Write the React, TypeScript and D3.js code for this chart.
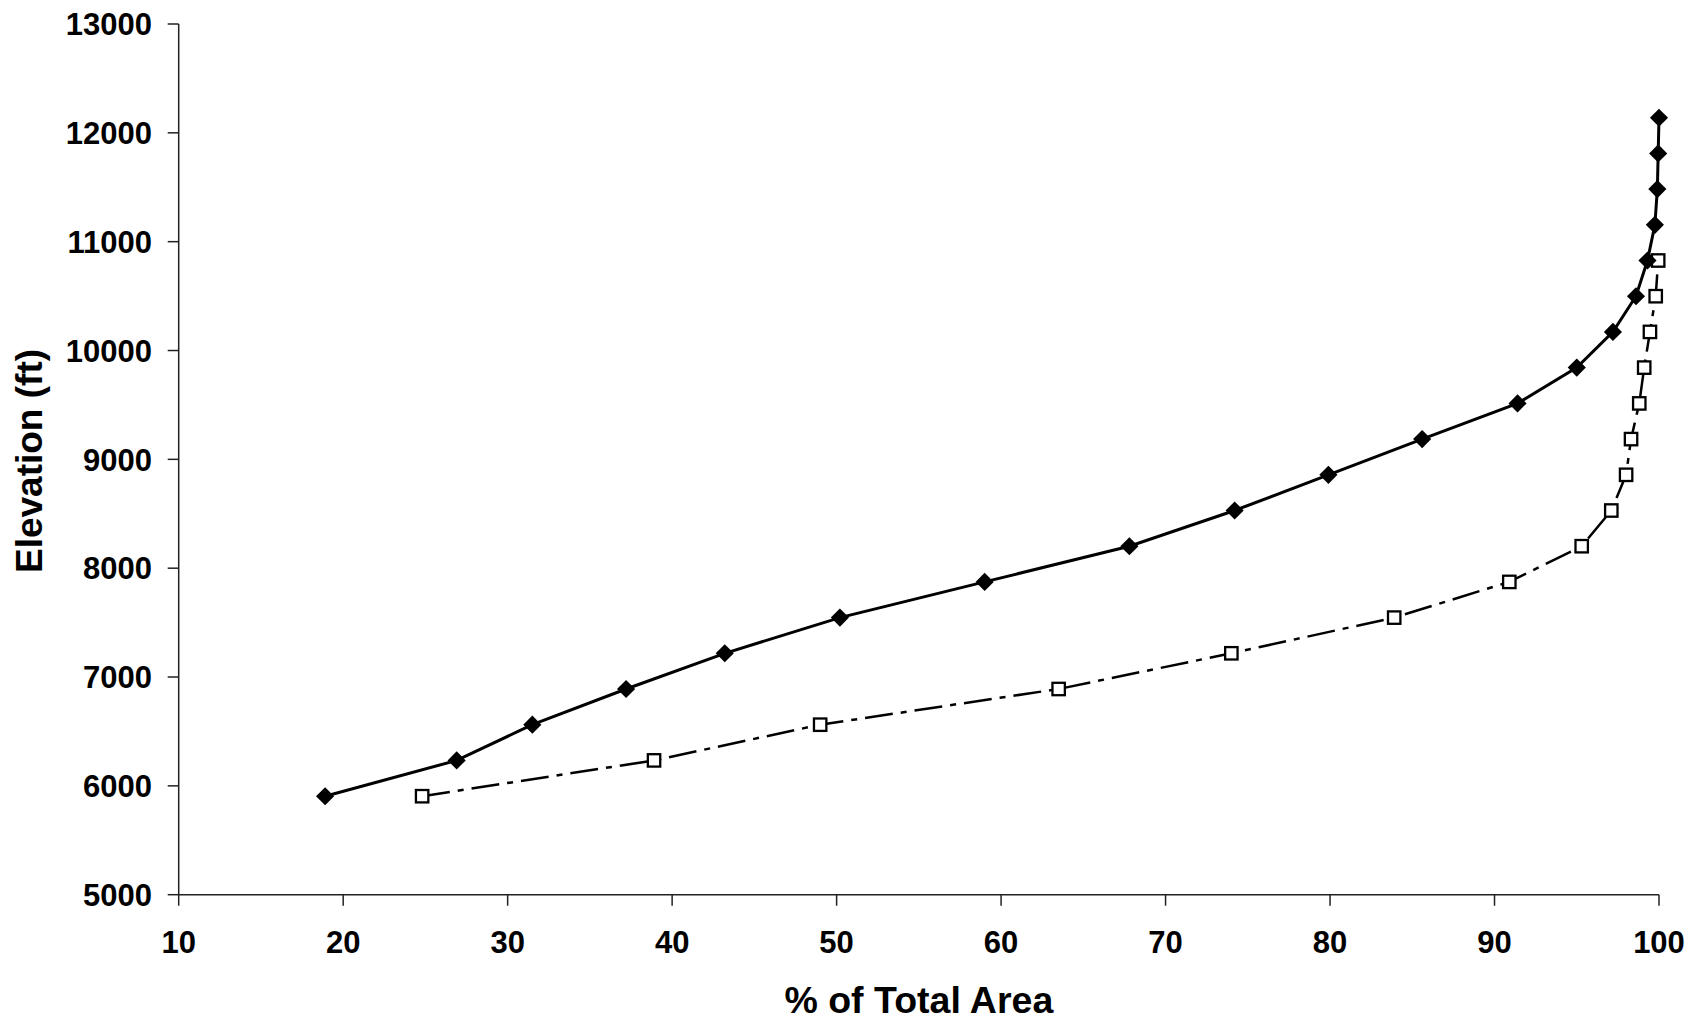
import React from "react";
import * as d3 from "d3";

const elevations = [5905, 6234, 6562, 6890, 7218, 7546, 7874, 8202, 8530, 8858, 9186, 9514, 9843, 10171, 10499, 10827, 11155, 11483, 11811, 12139];
const seriesA = [18.9, 26.9, 31.5, 37.2, 43.2, 50.2, 59.0, 67.8, 74.2, 79.9, 85.6, 91.4, 95.0, 97.2, 98.6, 99.3, 99.75, 99.9, 99.95, 100];
const seriesB = [24.8, 38.9, 49.0, 63.5, 74.0, 83.9, 90.9, 95.3, 97.1, 98.0, 98.3, 98.8, 99.1, 99.45, 99.8, 99.95];
const xTicks = [10, 20, 30, 40, 50, 60, 70, 80, 90, 100];
const yTicks = [5000, 6000, 7000, 8000, 9000, 10000, 11000, 12000, 13000];

const W = 1690, H = 1024;
const L = 178.7, R = 1659, T = 24, B = 894.7;
const FONT = "Arial, 'Liberation Sans', sans-serif";

export default function App() {
  const x = d3.scaleLinear().domain([10, 100]).range([L, R]);
  const y = d3.scaleLinear().domain([5000, 13000]).range([B, T]);
  const line = d3.line<[number, number]>().x(d => x(d[0])).y(d => y(d[1]));
  const ptsA: [number, number][] = seriesA.map((v, i) => [v, elevations[i]]);
  const ptsB: [number, number][] = seriesB.map((v, i) => [v, elevations[i]]);
  const diamond = d3.symbol().type(d3.symbolDiamond2).size(210)();
  return (
    <svg width={W} height={H} style={{ position: "absolute", left: 0, top: 0, background: "#fff" }}>
      <rect width={W} height={H} fill="#fff" />
      <line x1={L} x2={L} y1={T} y2={B} stroke="#222" strokeWidth={1.5} />
      <line x1={L} x2={R} y1={B} y2={B} stroke="#222" strokeWidth={1.5} />
      {yTicks.map(t => (
        <g key={"y" + t}>
          <line x1={L - 11} x2={L} y1={y(t)} y2={y(t)} stroke="#222" strokeWidth={1.5} />
          <text x={152} y={y(t)} dy="0.36em" textAnchor="end" fontFamily={FONT} fontWeight="bold" fontSize={31} fill="#000">{t}</text>
        </g>
      ))}
      {xTicks.map(t => (
        <g key={"x" + t}>
          <line x1={x(t)} x2={x(t)} y1={B} y2={B + 11} stroke="#222" strokeWidth={1.5} />
          <text x={x(t)} y={953} textAnchor="middle" fontFamily={FONT} fontWeight="bold" fontSize={31} fill="#000">{t}</text>
        </g>
      ))}
      <text x={(L + R) / 2} y={1013} textAnchor="middle" fontFamily={FONT} fontWeight="bold" fontSize={37.5} fill="#000">% of Total Area</text>
      <text transform={`translate(42,461) rotate(-90)`} textAnchor="middle" fontFamily={FONT} fontWeight="bold" fontSize={37} fill="#000">Elevation (ft)</text>
      <path d={line(ptsB) || ""} fill="none" stroke="#000" strokeWidth={2.5} strokeDasharray="28,8,6,8" />
      {ptsB.map((p, i) => (
        <rect key={"b" + i} x={x(p[0]) - 6.2} y={y(p[1]) - 6.2} width={12.4} height={12.4} fill="#fff" stroke="#000" strokeWidth={2.3} />
      ))}
      <path d={line(ptsA) || ""} fill="none" stroke="#000" strokeWidth={3} />
      {ptsA.map((p, i) => (
        <path key={"a" + i} d={diamond || ""} transform={`translate(${x(p[0])},${y(p[1])})`} fill="#000" />
      ))}
    </svg>
  );
}
